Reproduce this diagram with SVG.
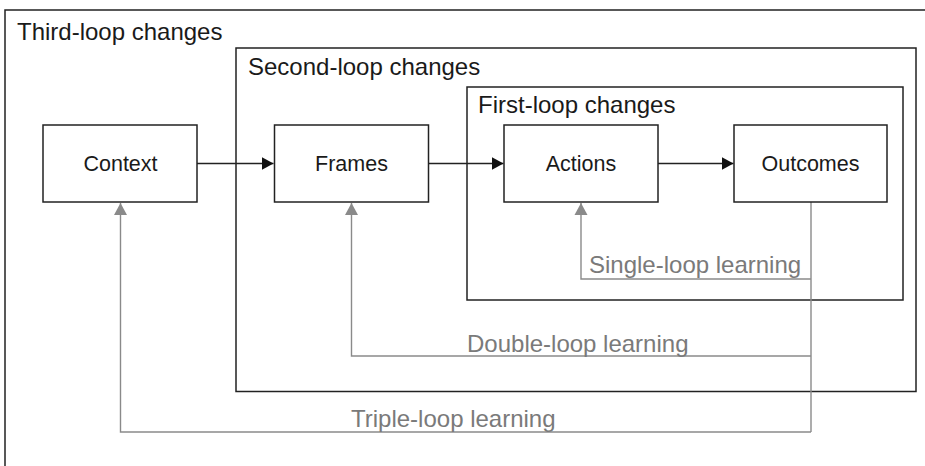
<svg xmlns="http://www.w3.org/2000/svg" width="925" height="466" viewBox="0 0 925 466">
  <style>
    .frame { fill: none; stroke: #222; stroke-width: 1.5; }
    .box { fill: #fff; stroke: #222; stroke-width: 1.5; }
    .title { font-family: "Liberation Sans", Arial, sans-serif; font-size: 24px; fill: #1a1a1a; }
    .label { font-family: "Liberation Sans", Arial, sans-serif; font-size: 21.5px; fill: #1a1a1a; text-anchor: middle; }
    .flow { fill: none; stroke: #222; stroke-width: 1.5; }
    .loop { fill: none; stroke: #8a8a8a; stroke-width: 1.4; }
    .loopText { font-family: "Liberation Sans", Arial, sans-serif; font-size: 24px; fill: #7a7a7a; }
  </style>
  <defs>
    <marker id="arrowBlack" markerUnits="userSpaceOnUse" markerWidth="13" markerHeight="14" refX="12" refY="7" orient="auto">
      <path d="M0,0.5 L12,7 L0,13.5 Z" fill="#111"/>
    </marker>
    <marker id="arrowGray" markerUnits="userSpaceOnUse" markerWidth="13" markerHeight="14" refX="12" refY="7" orient="auto">
      <path d="M0,0.5 L12,7 L0,13.5 Z" fill="#8a8a8a"/>
    </marker>
  </defs>
  <rect width="925" height="466" fill="#fff"/>

  <g id="third-loop">
    <path class="frame" d="M5,470 V10 H930"/>
    <text class="title" x="17" y="40">Third-loop changes</text>
  </g>
  <g id="second-loop">
    <rect class="frame" x="236" y="48" width="680" height="343.5"/>
    <text class="title" x="248" y="75">Second-loop changes</text>
  </g>
  <g id="first-loop">
    <rect class="frame" x="467" y="87" width="436" height="213"/>
    <text class="title" x="478" y="113">First-loop changes</text>
  </g>

  <g id="connectors">
    <line class="loop" x1="811" y1="202" x2="811" y2="432"/>
    <path class="loop" d="M811,279 H581 V203" marker-end="url(#arrowGray)"/>
    <path class="loop" d="M811,356 H351.5 V203" marker-end="url(#arrowGray)"/>
    <path class="loop" d="M811,432 H120.5 V203" marker-end="url(#arrowGray)"/>
    <line class="flow" x1="197" y1="163.5" x2="273.5" y2="163.5" marker-end="url(#arrowBlack)"/>
    <line class="flow" x1="429" y1="163.5" x2="503.5" y2="163.5" marker-end="url(#arrowBlack)"/>
    <line class="flow" x1="658" y1="163.5" x2="733.5" y2="163.5" marker-end="url(#arrowBlack)"/>
    <text class="loopText" x="589" y="273">Single-loop learning</text>
    <text class="loopText" x="467" y="351.5">Double-loop learning</text>
    <text class="loopText" x="351" y="426.5">Triple-loop learning</text>
  </g>

  <g id="context">
    <rect class="box" x="43" y="125" width="154" height="77"/>
    <text class="label" x="120.5" y="171">Context</text>
  </g>
  <g id="frames">
    <rect class="box" x="274.5" y="125" width="154" height="77"/>
    <text class="label" x="351.5" y="171">Frames</text>
  </g>
  <g id="actions">
    <rect class="box" x="504" y="125" width="154" height="77"/>
    <text class="label" x="581" y="171">Actions</text>
  </g>
  <g id="outcomes">
    <rect class="box" x="734" y="125" width="153" height="77"/>
    <text class="label" x="810.5" y="171">Outcomes</text>
  </g>
</svg>
